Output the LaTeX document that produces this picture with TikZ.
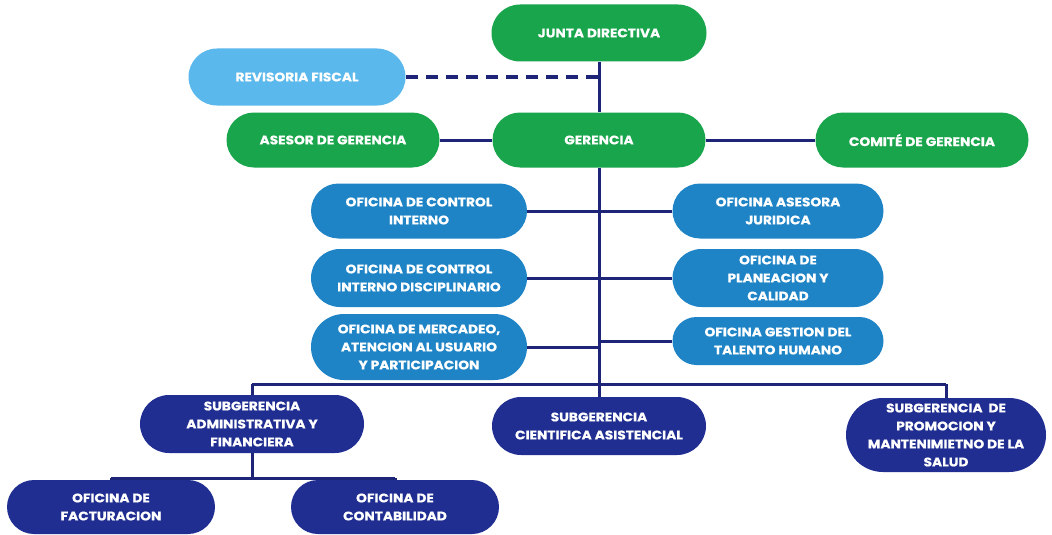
\documentclass[tikz,border=0pt]{standalone}
\usepackage{fontspec}
\setmainfont{Poppins}[BoldFeatures={FakeBold=0.6,FakeStretch=1.1}]
\usetikzlibrary{shapes.misc}
\definecolor{cgreen}{RGB}{24,165,76}
\definecolor{clight}{RGB}{90,184,236}
\definecolor{cmid}{RGB}{30,132,198}
\definecolor{cnavy}{RGB}{32,46,146}
\definecolor{cline}{RGB}{30,36,120}
\begin{document}
\begin{tikzpicture}[x=1pt,y=-1pt,
  box/.style={rounded rectangle, text=white, align=center,
    font=\fontsize{12.5}{18}\selectfont\bfseries, inner sep=1pt},
  gbox/.style={box, fill=cgreen},
  lbox/.style={box, fill=clight},
  mbox/.style={box, fill=cmid},
  nbox/.style={box, fill=cnavy},
  conn/.style={draw=cline, line width=3pt},
  dconn/.style={draw=cline, line width=3.2pt, dash pattern=on 12pt off 8pt}]
\useasboundingbox[fill=white] (0,0) rectangle (1052,535);

\coordinate (sprev) at (599,77);
\coordinate (sp1) at (599,211);
\coordinate (sp2) at (599,278);
\coordinate (busM) at (599,384);
\coordinate (busL) at (252,384);
\coordinate (busR) at (946,384);
\coordinate (sbM) at (252,478);
\coordinate (sbL) at (111,478);
\coordinate (sbR) at (395,478);

% top level
\node[gbox, minimum width=217pt, minimum height=57pt] (junta) at (599,33) {JUNTA DIRECTIVA};
\node[lbox, minimum width=219pt, minimum height=57pt] (rev) at (297,77) {REVISORIA FISCAL};
\node[gbox, minimum width=215pt, minimum height=55pt] (asesor) at (333,140) {ASESOR DE GERENCIA};
\node[gbox, minimum width=215pt, minimum height=55pt] (ger) at (599,140) {GERENCIA};
\node[gbox, minimum width=215pt, minimum height=55pt] (comite) at (922,140) {COMITÉ DE GERENCIA};

% offices
\node[mbox, minimum width=218pt, minimum height=55pt] (ci) at (419,211) {OFICINA DE CONTROL\\INTERNO};
\node[mbox, minimum width=213pt, minimum height=55pt] (jur) at (778,211) {OFICINA ASESORA\\JURIDICA};
\node[mbox, minimum width=218pt, minimum height=58pt] (cid) at (419,278) {OFICINA DE CONTROL\\INTERNO DISCIPLINARIO};
\node[mbox, minimum width=213pt, minimum height=58pt] (plan) at (778,278) {OFICINA DE\\PLANEACION Y\\CALIDAD};
\node[mbox, minimum width=218pt, minimum height=66pt] (merc) at (419,347) {OFICINA DE MERCADEO,\\ATENCION AL USUARIO\\Y PARTICIPACION};
\node[mbox, minimum width=213pt, minimum height=48pt] (tal) at (778,341) {OFICINA GESTION DEL\\TALENTO HUMANO};

% subgerencias
\node[nbox, minimum width=226pt, minimum height=58pt] (sadm) at (252,424) {SUBGERENCIA\\ADMINISTRATIVA Y\\FINANCIERA};
\node[nbox, minimum width=216pt, minimum height=58pt] (scie) at (599,426) {SUBGERENCIA\\CIENTIFICA ASISTENCIAL};
\node[nbox, minimum width=202pt, minimum height=74pt] (sprom) at (946,435) {SUBGERENCIA\ \ DE\\PROMOCION Y\\MANTENIMIETNO DE LA\\SALUD};

% offices under admin
\node[nbox, minimum width=210pt, minimum height=54pt] (fact) at (111,507) {OFICINA DE\\FACTURACION};
\node[nbox, minimum width=210pt, minimum height=54pt] (cont) at (395,507) {OFICINA DE\\CONTABILIDAD};

% connectors
\draw[conn] (junta.south) -- (ger.north);
\draw[dconn] (rev.east) -- (sprev);
\draw[conn] (asesor.east) -- (ger.west);
\draw[conn] (ger.east) -- (comite.west);
\draw[conn] (ger.south) -- (busM);
\draw[conn] (ci.east) -- (sp1);
\draw[conn] (jur.west) -- (sp1);
\draw[conn] (cid.east) -- (sp2);
\draw[conn] (plan.west) -- (sp2);
\draw[conn] (merc.east) -- (merc.east -| busM);
\draw[conn] (tal.west) -- (tal.west -| busM);
\draw[conn] (busL) -- (busR);
\draw[conn] (busL) -- (sadm.north);
\draw[conn] (busM) -- (scie.north);
\draw[conn] (busR) -- (sprom.north);
\draw[conn] (sadm.south) -- (sbM);
\draw[conn] (sbL) -- (sbR);
\draw[conn] (sbL) -- (fact.north);
\draw[conn] (sbR) -- (cont.north);
\end{tikzpicture}
\end{document}
